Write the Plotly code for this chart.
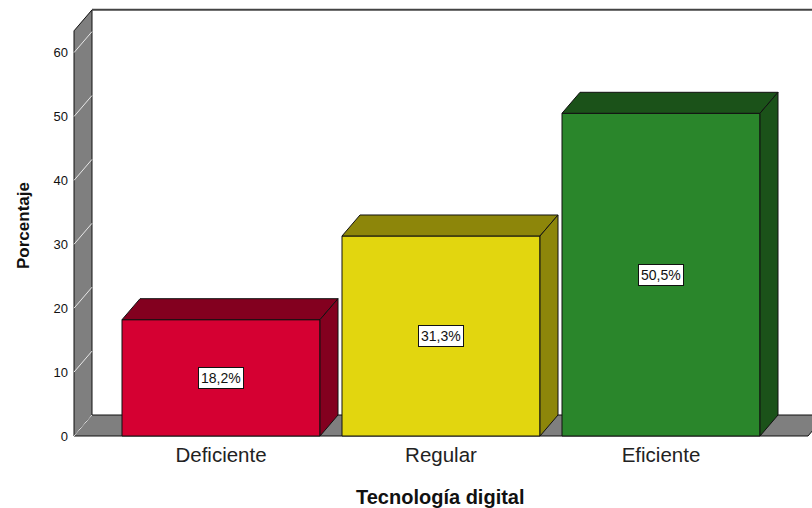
import plotly.graph_objects as go

# ---- data ----
categories = ["Deficiente", "Regular", "Eficiente"]
values = [18.2, 31.3, 50.5]
labels = ["18,2%", "31,3%", "50,5%"]
y_ticks = [0, 10, 20, 30, 40, 50, 60]
x_title = "Tecnología digital"
y_title = "Porcentaje"

# ---- styling ----
front_colors = ["#D50032", "#E2D60F", "#2A862B"]
dark_colors = ["#83001F", "#8D860A", "#1B5219"]
wall_color = "#7F7F7F"
edge = "#111111"

W, H = 812, 508
ML, MB = 72, 68
PXX = 220.0          # pixels per category unit
PXY = 6.39           # pixels per percent
X0PIX = 221.0        # pixel of first category
Y0PIX = 436.0        # pixel of value 0

xmin = (ML - X0PIX) / PXX
xmax = (W - X0PIX) / PXX
ymax = Y0PIX / PXY
ymin = -(H - MB - Y0PIX) / PXY

dx = 18 / PXX        # depth offset (x)
dy = 21 / PXY        # depth offset (y)
bw = 0.9             # bar width
xw = (74 - X0PIX) / PXX          # wall front x
wall_top = 63.4
floor_right = (808 - X0PIX) / PXX

fig = go.Figure()

# front faces
fig.add_trace(go.Bar(
    x=list(range(len(categories))), y=values, width=bw,
    marker=dict(color=front_colors, line=dict(color=edge, width=1)),
    hoverinfo="skip", showlegend=False))

# top and side faces
for i, v in enumerate(values):
    xl, xr = i - bw / 2, i + bw / 2
    top_x = [xl, xl + dx, xr + dx, xr, xl]
    top_y = [v, v + dy, v + dy, v, v]
    side_x = [xr, xr + dx, xr + dx, xr, xr]
    side_y = [v, v + dy, dy, 0, v]
    for px, py in ((top_x, top_y), (side_x, side_y)):
        fig.add_trace(go.Scatter(
            x=px, y=py, mode="lines", fill="toself",
            fillcolor=dark_colors[i], line=dict(color=edge, width=1),
            hoverinfo="skip", showlegend=False))

shapes = []
# side wall
shapes.append(dict(type="path", xref="x", yref="y", layer="below",
                   path=f"M {xw},0 L {xw},{wall_top} L {xw+dx},{wall_top+dy} L {xw+dx},{dy} Z",
                   fillcolor=wall_color, line=dict(color=edge, width=1)))
# floor
shapes.append(dict(type="path", xref="x", yref="y", layer="below",
                   path=f"M {xw},0 L {floor_right},0 L {floor_right+dx},{dy} L {xw+dx},{dy} Z",
                   fillcolor=wall_color, line=dict(color=edge, width=1)))
# tick lines on the wall
for t in y_ticks:
    shapes.append(dict(type="line", xref="x", yref="y", layer="below",
                       x0=xw, y0=t, x1=xw + dx, y1=t + dy,
                       line=dict(color="#E8E8E8", width=1)))
# back frame top line
shapes.append(dict(type="line", xref="x", yref="y", layer="below",
                   x0=xw + dx, y0=wall_top + dy, x1=xmax + 1, y1=wall_top + dy,
                   line=dict(color="#444444", width=2)))

annotations = []
for i, (v, lab) in enumerate(zip(values, labels)):
    annotations.append(dict(x=i, y=v / 2, xref="x", yref="y", text=lab,
                            showarrow=False, bgcolor="white",
                            bordercolor="#111111", borderwidth=1, borderpad=2,
                            font=dict(family="Liberation Sans, Arial", size=14, color="#111111")))
annotations.append(dict(x=(440 - ML) / (W - ML), y=-(497 - (H - MB)) / (H - MB),
                        xref="paper", yref="paper", text=f"<b>{x_title}</b>",
                        showarrow=False, xanchor="center", yanchor="middle",
                        font=dict(family="Liberation Sans, Arial", size=20, color="#111111")))
annotations.append(dict(x=(23 - ML) / (W - ML), y=((H - MB) - 226) / (H - MB),
                        xref="paper", yref="paper", text=f"<b>{y_title}</b>",
                        showarrow=False, textangle=-90, xanchor="center", yanchor="middle",
                        font=dict(family="Liberation Sans, Arial", size=17, color="#111111")))

fig.update_layout(
    width=W, height=H,
    margin=dict(l=ML, r=0, t=0, b=MB),
    paper_bgcolor="white", plot_bgcolor="white",
    shapes=shapes, annotations=annotations,
    showlegend=False,
    xaxis=dict(range=[xmin, xmax], tickvals=list(range(len(categories))),
               ticktext=categories, showgrid=False, zeroline=False,
               showline=False, ticks="", ticklabelstandoff=0,
               tickfont=dict(family="Liberation Sans, Arial", size=20.5, color="#222222"),
               fixedrange=True),
    yaxis=dict(range=[ymin, ymax], tickvals=y_ticks, showgrid=False,
               zeroline=False, showline=False, ticks="", ticklabelstandoff=3,
               tickfont=dict(family="Liberation Sans, Arial", size=13, color="#111111"),
               fixedrange=True),
)

fig.write_html("out.html")
